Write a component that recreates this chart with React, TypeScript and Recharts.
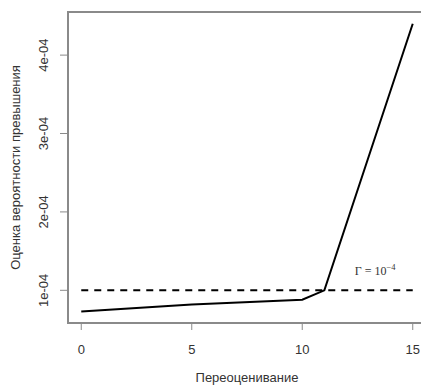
import React from "react";
import {
  LineChart,
  Line,
  XAxis,
  YAxis,
  ReferenceArea,
} from "recharts";

// Data
const overestimation = [0, 5, 10, 11, 15];
const probability = [7.3e-5, 8.2e-5, 8.8e-5, 1.0e-4, 4.4e-4];
const thresholdX = [0, 15];
const thresholdValue = 1e-4;

const xTicks = [0, 5, 10, 15];
const yTicks = [1e-4, 2e-4, 3e-4, 4e-4];
const yTickLabels = ["1e-04", "2e-04", "3e-04", "4e-04"];

const xDomain: [number, number] = [-0.6, 15.6];
const yDomain: [number, number] = [5.83e-5, 4.55e-4];

const seriesData = overestimation.map((x, i) => ({ x, p: probability[i] }));
const thresholdData = thresholdX.map((x) => ({ x, t: thresholdValue }));

const FONT = "'Liberation Sans', Arial, sans-serif";
const TEXT = "#333";
const FRAME = "#8a8a8a";

const YTick = (props: any) => {
  const { x, y, payload } = props;
  const idx = yTicks.indexOf(payload.value);
  return (
    <text
      x={x}
      y={y}
      transform={`rotate(-90, ${x}, ${y})`}
      textAnchor="middle"
      fontFamily={FONT}
      fontSize={13}
      fill={TEXT}
    >
      {idx >= 0 ? yTickLabels[idx] : payload.value}
    </text>
  );
};

const XTick = (props: any) => {
  const { x, y, payload } = props;
  return (
    <text x={x} y={y} dy="0.71em" textAnchor="middle" fontFamily={FONT} fontSize={13} fill={TEXT}>
      {payload.value}
    </text>
  );
};

const YTitle = (props: any) => {
  const { viewBox } = props;
  const x = viewBox.x + 20;
  const y = viewBox.y + viewBox.height / 2;
  return (
    <text
      x={x}
      y={y}
      transform={`rotate(-90, ${x}, ${y})`}
      textAnchor="middle"
      fontFamily={FONT}
      fontSize={13}
      fill={TEXT}
    >
      Оценка вероятности превышения
    </text>
  );
};

const XTitle = (props: any) => {
  const { viewBox } = props;
  const x = viewBox.x + viewBox.width / 2;
  const y = viewBox.y + viewBox.height - 4;
  return (
    <text x={x} y={y} textAnchor="middle" fontFamily={FONT} fontSize={13} fill={TEXT}>
      Переоценивание
    </text>
  );
};

const GammaLabel = (props: any) => {
  const { viewBox } = props;
  const x = viewBox.x + viewBox.width - 58;
  const y = viewBox.y - 15;
  return (
    <text x={x} y={y} fontFamily="'Liberation Serif', 'DejaVu Serif', serif" fontSize={12} fill="#333">
      <tspan>Γ = 10</tspan>
      <tspan dy={-5} fontSize={8.5}>−4</tspan>
    </text>
  );
};

export default function App() {
  return (
    <div style={{ position: "fixed", left: 0, top: 0, width: 421, height: 386, overflow: "hidden", background: "#fff" }}>
      <LineChart
        width={430}
        height={386}
        data={seriesData}
        margin={{ top: 12, right: 4, bottom: 0, left: 0 }}
      >
        <XAxis
          dataKey="x"
          type="number"
          domain={xDomain}
          ticks={xTicks}
          allowDataOverflow
          height={63}
          tickSize={7}
          tickMargin={15}
          axisLine={false}
          tickLine={{ stroke: FRAME }}
          tick={<XTick />}
          label={<XTitle />}
        />
        <YAxis
          type="number"
          domain={yDomain}
          ticks={yTicks}
          allowDataOverflow
          width={68}
          tickSize={8}
          tickMargin={12}
          axisLine={false}
          tickLine={{ stroke: FRAME }}
          tick={<YTick />}
          label={<YTitle />}
        />
        <ReferenceArea
          x1={xDomain[0]}
          x2={xDomain[1]}
          y1={yDomain[0]}
          y2={yDomain[1]}
          fill="none"
          stroke={FRAME}
          strokeWidth={2}
          ifOverflow="visible"
        />
        <Line
          data={thresholdData}
          dataKey="t"
          stroke="#000"
          strokeWidth={2}
          strokeDasharray="7 6"
          dot={false}
          activeDot={false}
          isAnimationActive={false}
          label={false}
        />
        <ReferenceArea
          x1={thresholdX[0]}
          x2={thresholdX[1]}
          y1={thresholdValue}
          y2={thresholdValue}
          fill="none"
          stroke="none"
          ifOverflow="visible"
          label={<GammaLabel />}
        />
        <Line
          dataKey="p"
          stroke="#000"
          strokeWidth={2}
          dot={false}
          activeDot={false}
          isAnimationActive={false}
        />
      </LineChart>
    </div>
  );
}
